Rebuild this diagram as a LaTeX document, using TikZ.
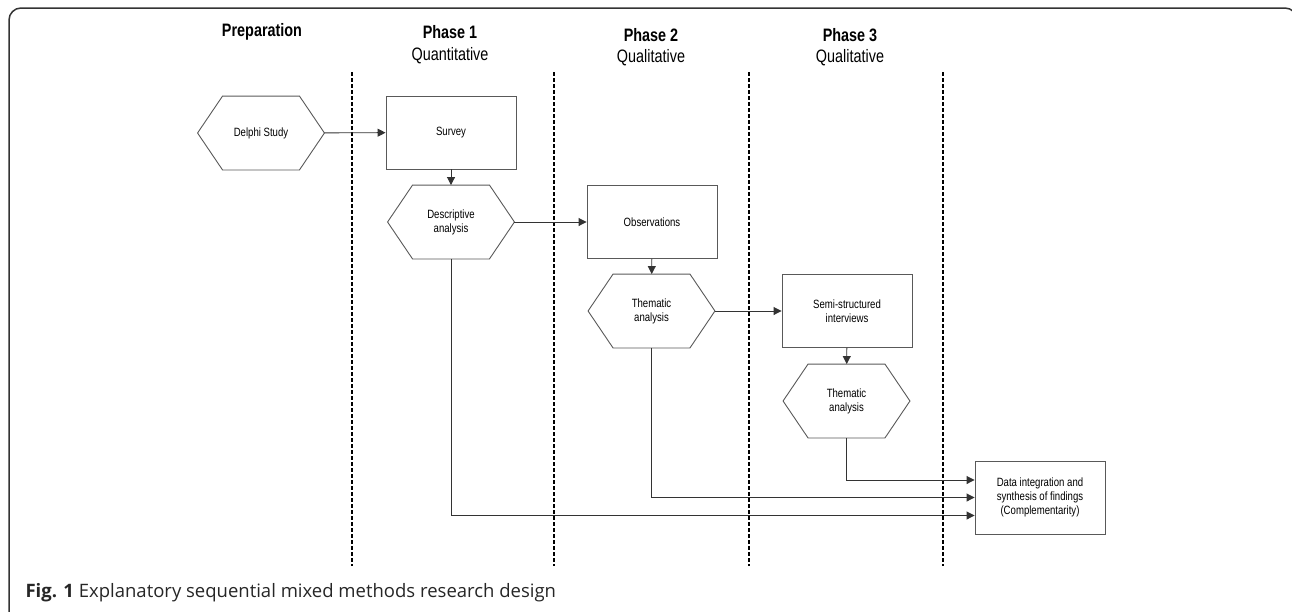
\documentclass[tikz,border=0pt]{standalone}
\usepackage{fontspec}
\setmainfont[FakeStretch=0.8]{Liberation Sans}
\newfontfamily\capfont{Open Sans}
\usetikzlibrary{arrows.meta}
\usetikzlibrary{positioning}
\tikzset{
	>={Triangle[length=8pt,width=8pt]},
	box/.style={draw=black!65, line width=0.9pt, minimum width=130pt, minimum height=73pt, inner sep=0pt, align=center, font=\fontsize{12}{14}\selectfont},
	hexa/.style={box, draw=none, minimum width=126pt},
	phase/.style={font=\fontsize{18}{20}\selectfont\bfseries},
	kind/.style={font=\fontsize{18}{20}\selectfont},
	flow/.style={->, draw=black!80, line width=0.9pt},
	lane/.style={line width=1.3pt, dash pattern=on 3.5pt off 2.5pt}
}
\newcommand\hexout[1]{\draw[black!65, line width=0.9pt] ([xshift=25pt]#1.north west) -- ([xshift=-25pt]#1.north east) -- (#1.east) -- ([xshift=-25pt]#1.south east) -- ([xshift=25pt]#1.south west) -- (#1.west) -- cycle;}

\begin{document}
\begin{tikzpicture}[x=1pt, y=-1pt]
	\useasboundingbox (0,0) rectangle (1292,611);
	\draw [line width=1.5pt, black!80, rounded corners=12pt] (9,8) rectangle (1297,630);
	% column heads
	\node [phase] (prep) at (262,32) {Preparation};
	\node [phase] (ph1) at (450,32) {Phase 1};
	\node [kind] (q1) at (450,56) {Quantitative};
	\node [phase] (ph2) at (651,35) {Phase 2};
	\node [kind] (q2) at (651,58) {Qualitative};
	\node [phase] (ph3) at (850,35) {Phase 3};
	\node [kind] (q3) at (850,58) {Qualitative};
	\foreach \x in {352,554,749,943}
		\draw [lane] (\x,72) -- (\x,566);
	% steps
	\node [hexa] (delphi) at (261,133) {Delphi Study}; \hexout{delphi}
	\node [box] (survey) at (451,132.5) {Survey};
	\node [hexa] (desc) at (451,222) {Descriptive\\analysis}; \hexout{desc}
	\node [box] (obs) at (652,222) {Observations};
	\node [hexa] (them2) at (651.5,311) {Thematic\\analysis}; \hexout{them2}
	\node [box] (semi) at (847,311) {Semi-structured\\interviews};
	\node [hexa] (them3) at (846.5,401) {Thematic\\analysis}; \hexout{them3}
	\node [box] (data) at (1040,497.5) {Data integration and\\synthesis of findings\\(Complementarity)};
	\draw [flow] (delphi) -- (survey);
	\draw [flow] (survey) -- (desc);
	\draw [flow] (desc) -- (obs);
	\draw [flow] (obs) -- (them2);
	\draw [flow] (them2) -- (semi);
	\draw [flow] (semi) -- (them3);
	\draw [flow] (them3.south) |- ([yshift=17.5pt]data.west);
	\draw [flow] (them2.south) |- (data.west);
	\draw [flow] (desc.south) |- ([yshift=-18pt]data.west);
	\node [anchor=west, text=black!85, font=\capfont\fontsize{18.5}{22}\selectfont] (cap) at (22,593) {\textbf{Fig. 1} Explanatory sequential mixed methods research design};
\end{tikzpicture}
\end{document}
